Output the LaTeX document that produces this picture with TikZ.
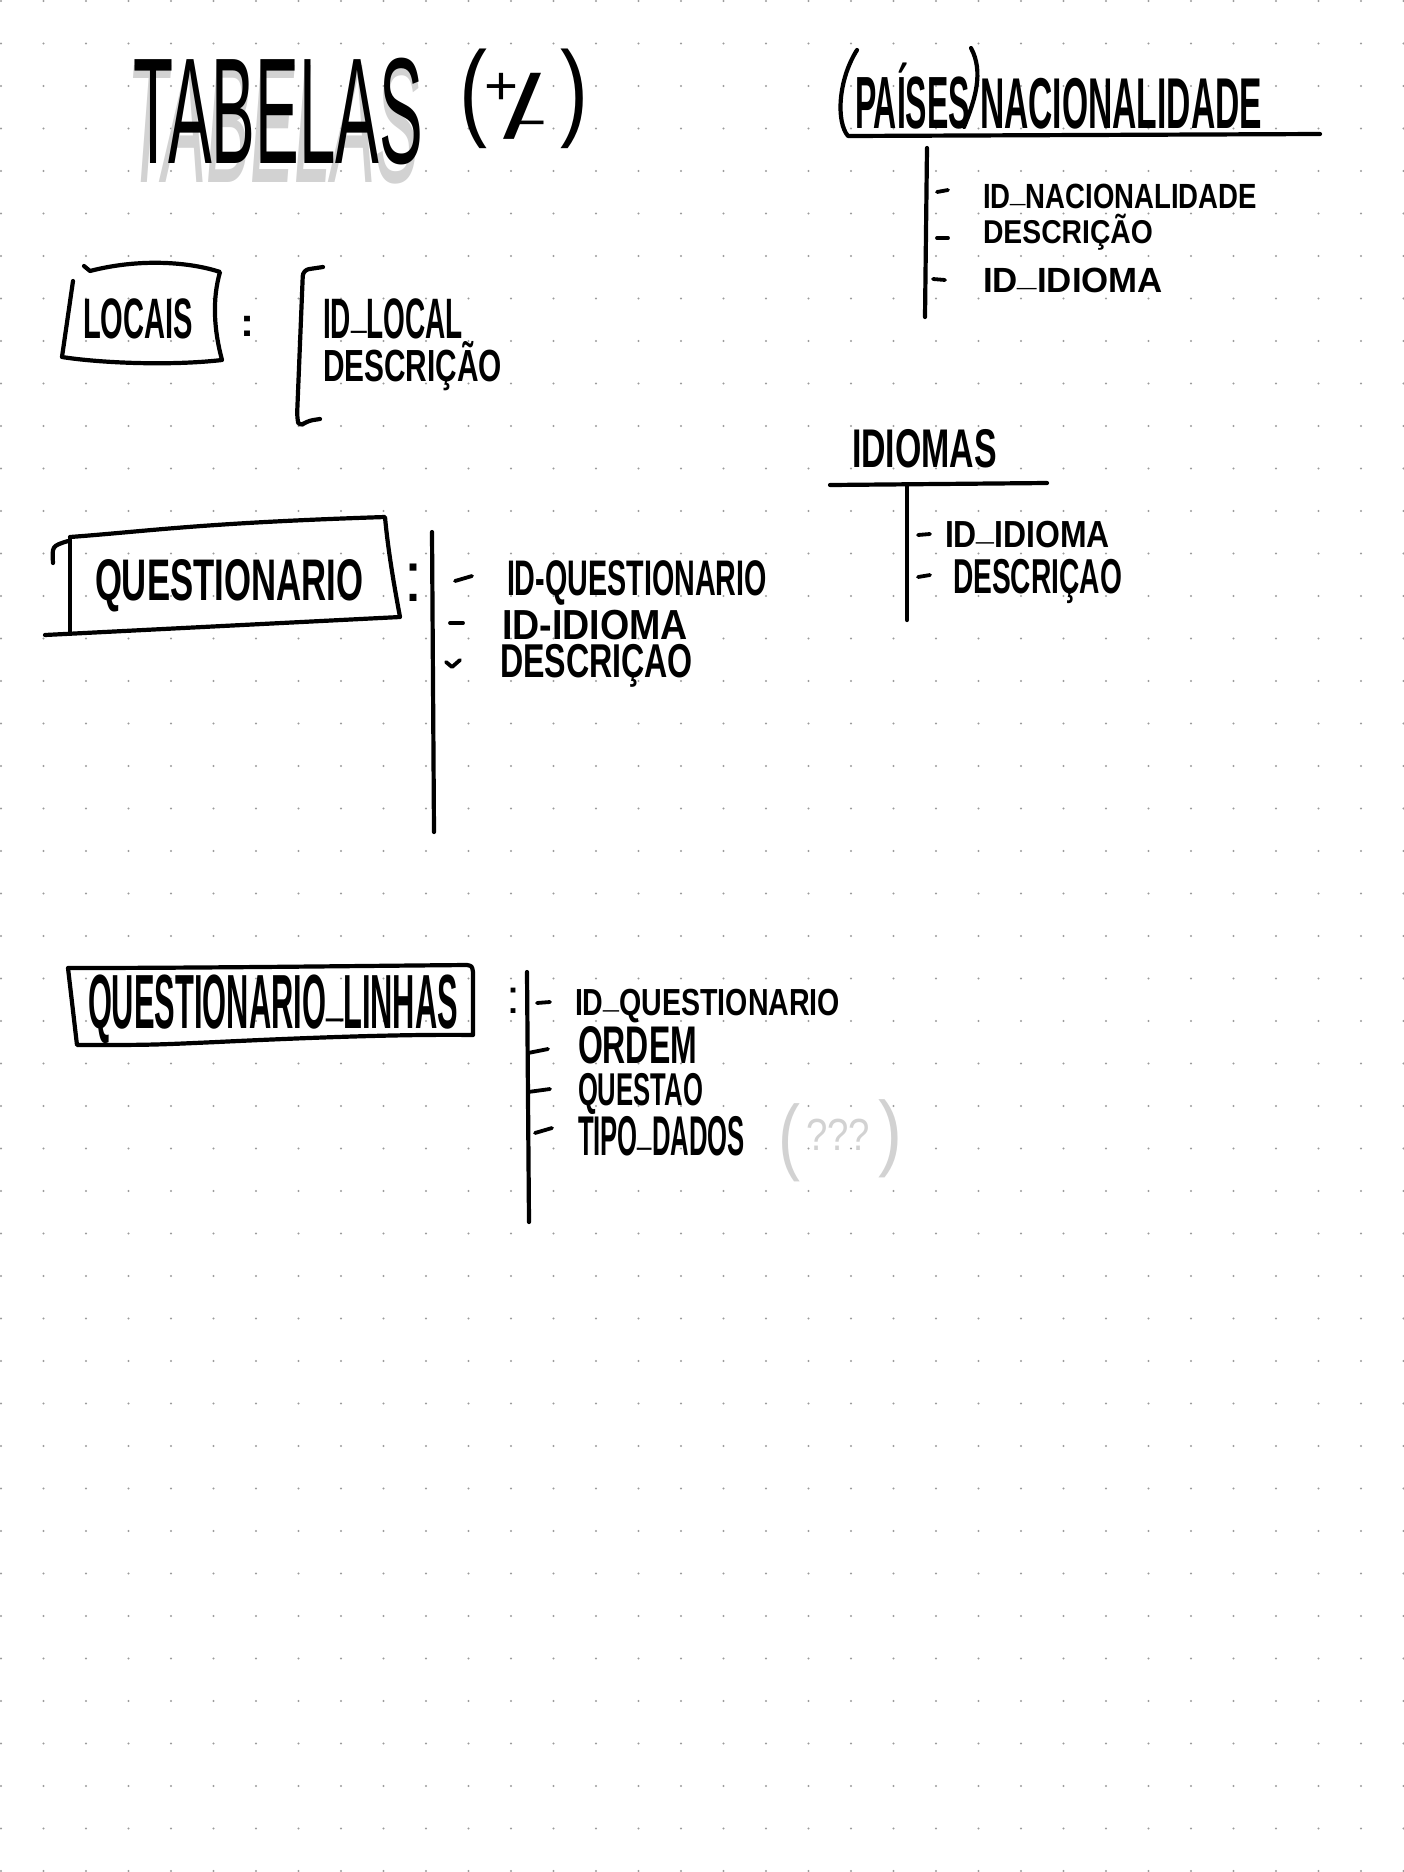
\documentclass[tikz,border=0pt]{standalone}
\usepackage{fontspec}
\setmainfont{Liberation Sans}
\usetikzlibrary{positioning}
\definecolor{cink}{HTML}{000000}
\definecolor{cghost}{HTML}{D2D2D2}
\definecolor{cdot}{HTML}{9C9C9C}
% size, width, text
\newcommand{\hw}[3]{\fontsize{#1}{#1}\selectfont\resizebox{#2pt}{\height}{#3}}
% underscore sitting on the line
\newcommand{\us}{\raisebox{0.2em}{\_}}
% piece of text shifted by x, y (pt) from the node's base
\newcommand{\piece}[3]{\makebox[0pt][l]{\kern#1pt\raisebox{#2pt}{#3}}}
\tikzset{
  hand/.style={anchor=base west, inner sep=0pt, outer sep=0pt, font=\bfseries, text=cink},
  ghost/.style={hand, font=\itshape, text=cghost},
  ink/.style={draw=cink, line width=4.2pt, line cap=round, line join=round},
  tick/.style={ink, line width=3.8pt},
  gdot/.style={fill=cdot}
}

\begin{document}
\begin{tikzpicture}[x=1pt, y=-1pt]

\fill[white] (0,0) rectangle (1404,1872);
\useasboundingbox (0,0) rectangle (1404,1872);

% dotted paper
\foreach \i in {0,...,33}
  \foreach \j in {0,...,44}
    \fill[gdot] (1+42.5*\i, 1+42.5*\j) circle (1.2pt);

% title
\node[ghost] (tabghost) at (127,182) {\hw{170}{293}{TABELAS}};
\node[hand, font=\mdseries] (tabelas) at (133,163) {\hw{151}{290}{TABELAS}};
\node[hand, font=\mdseries] (tsign) at (459,126)
  {\piece{0}{0}{\hw{107}{28}{(}}%
   \piece{25}{22}{\hw{54}{34}{+}}%
   \piece{44}{-12}{\hw{90}{38}{/}}%
   \piece{57}{-13}{\hw{50}{30}{−}}%
   \piece{101}{0}{\hw{107}{28}{)}}\kern129pt};

% paises / nacionalidade
\node[hand] (paises) at (855,128) {\hw{74}{115}{PAÍSES}};
\node[hand] (nacional) at (980,128) {\hw{72}{282}{NACIONALIDADE}};
\draw[ink] (857,50) .. controls (838,80) and (836,122) .. (848,136) -- (1320,134);
\draw[ink] (971,48) .. controls (984,72) and (975,100) .. (964,127);
\draw[ink] (927,148) -- (925,317);
\draw[tick] (937,192) -- (948,190);
\draw[tick] (937,238) -- (948,238);
\draw[tick] (933,279) -- (945,280);
\node[hand] (nacid) at (983,208) {\hw{35}{274}{ID\us NACIONALIDADE}};
\node[hand] (nacdesc) at (983,243) {\hw{33}{170}{DESCRIÇÃO}};
\node[hand] (nacidioma) at (983,292) {\hw{35}{180}{ID\us IDIOMA}};

% locais
\node[hand] (locais) at (83,338) {\hw{57}{110}{LOCAIS}};
\draw[ink] (84,266) -- (90,271) .. controls (140,258) and (190,262) .. (220,272)
  .. controls (212,300) and (214,330) .. (222,360)
  .. controls (170,366) and (100,363) .. (62,357) -- (73,281);
\node[hand, anchor=base] (lcolon) at (247,336) {\hw{40}{14}{:}};
\draw[ink, rounded corners=6pt] (323,267) -- (303,270) -- (297,417) -- (299,427) -- (307,421) -- (320,419);
\node[hand] (locid) at (323,338) {\hw{57}{140}{ID\us LOCAL}};
\node[hand] (locdesc) at (323,381) {\hw{45}{179}{DESCRIÇÃO}};

% idiomas
\node[hand] (idiomas) at (852,467) {\hw{54.5}{145}{IDIOMAS}};
\draw[ink] (830,485) -- (1047,483);
\draw[ink] (907,485) -- (907,620);
\draw[tick] (918,535) -- (930,534);
\draw[tick] (918,577) -- (930,575);
\node[hand] (idid) at (945,547) {\hw{37.7}{165}{ID\us IDIOMA}};
\node[hand] (iddesc) at (953,593) {\hw{49}{169}{DESCRIÇAO}};

% questionario
\node[hand] (quest) at (95,600) {\hw{58.7}{268}{QUESTIONARIO}};
\draw[ink] (53,563) .. controls (52,546) .. (68,541);
\draw[ink] (70,538) -- (70,632);
\draw[ink] (70,537) .. controls (150,531) and (200,523) .. (385,517)
  .. controls (388,550) and (394,585) .. (400,617) -- (45,635);
\node[hand, font=\mdseries, anchor=base] (qcolon) at (413,601) {\hw{71}{20}{:}};
\draw[ink] (432,532) -- (434,832);
\draw[tick] (455,581) -- (472,576);
\draw[tick] (450,623) -- (463,623);
\draw[tick] (446,662) -- (452,667) -- (460,660);
\node[hand] (qid) at (507,595) {\hw{50}{260}{ID-QUESTIONARIO}};
\node[hand] (qidioma) at (502,639) {\hw{42}{186}{ID-IDIOMA}};
\node[hand] (qdesc) at (500,677) {\hw{47.5}{193}{DESCRIÇAO}};

% questionario_linhas
\node[hand] (linhas) at (88,1028) {\hw{76.8}{370}{QUESTIONARIO\us LINHAS}};
\draw[ink] (68,968) .. controls (200,968) and (350,966) .. (467,965)
  .. controls (472,966) .. (473,972) -- (473,1035)
  .. controls (400,1034) and (300,1038) .. (217,1042)
  .. controls (150,1045) .. (77,1045) -- (68,968);
\node[hand, font=\mdseries, anchor=base] (lcolon2) at (513,1013) {\hw{48}{14}{:}};
\draw[ink] (527,972) -- (529,1222);
\draw[tick] (537,1003) -- (550,1002);
\draw[tick] (528,1053) -- (548,1049);
\draw[tick] (528,1092) -- (550,1089);
\draw[tick] (535,1133) -- (552,1128);
\node[hand] (lid) at (575,1015) {\hw{37.7}{265}{ID\us QUESTIONARIO}};
\node[hand] (lordem) at (578,1063) {\hw{53}{119}{ORDEM}};
\node[hand] (lquest) at (578,1105) {\hw{46}{125}{QUESTAO}};
\node[hand] (ltipo) at (578,1155) {\hw{56}{167}{TIPO\us DADOS}};

% gray note
\node[ghost, font=\mdseries] (qnote) at (778,1164)
  {\piece{0}{0}{\hw{84}{22}{(}}%
   \piece{28}{14}{\hw{45}{64}{???}}%
   \piece{100}{4}{\hw{84}{24}{)}}\kern124pt};

\end{tikzpicture}
\end{document}
